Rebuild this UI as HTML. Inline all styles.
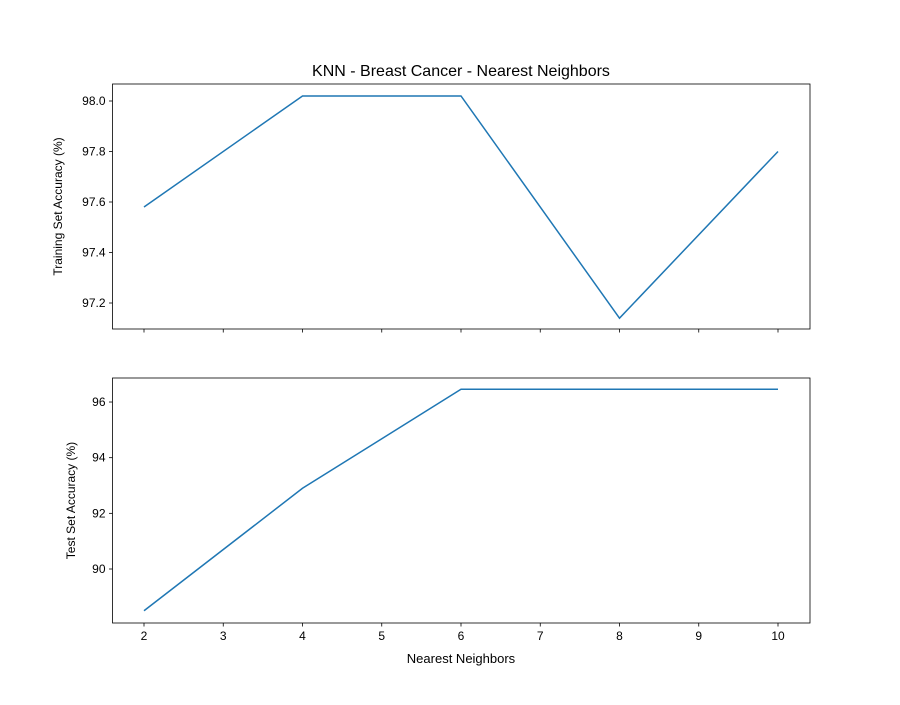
<!DOCTYPE html>
<html><head><meta charset="utf-8"><style>
body{margin:0;background:#fff}
svg text{font-family:"Liberation Sans","DejaVu Sans",sans-serif;fill:#000}
</style></head><body>
<svg id="chart" width="900" height="700"></svg>
<script>
const neighbors=[2,4,6,8,10];
const trainAcc=[97.58,98.02,98.02,97.14,97.80];
const testAcc=[88.5,92.9,96.46,96.46,96.46];
const xTicks=[2,3,4,5,6,7,8,9,10];
const trainTicks=[97.2,97.4,97.6,97.8,98.0];
const testTicks=[90,92,94,96];

const svg=document.getElementById('chart');
const NS='http://www.w3.org/2000/svg';
function mk(tag,attrs,parent){const e=document.createElementNS(NS,tag);for(const k in attrs)e.setAttribute(k,attrs[k]);(parent||svg).appendChild(e);return e;}
const L=112.5,R=810;
const xs=v=>144+(v-2)*79.25;
function panel(name,top,bottom,ys,ticks,vals,fmt,label,showX){
  const g=mk('g',{});
  
  
  const pts=neighbors.map((n,i)=>xs(n)+','+ys(vals[i])).join(' ');
  const line=mk('polyline',{points:pts,fill:'none',stroke:'#1f77b4','stroke-width':1.5},g);
  
  
  ticks.forEach(t=>{const y=ys(t);
    mk('line',{x1:L-3.5,x2:L,y1:y,y2:y,stroke:'#000','stroke-width':0.8},g);
    const tx=mk('text',{x:L-7,y:y+4,'text-anchor':'end','font-size':12},g);tx.textContent=fmt(t);
    
    
  });
  xTicks.forEach(t=>{const x=xs(t);
    mk('line',{x1:x,x2:x,y1:bottom,y2:bottom+3.5,stroke:'#000','stroke-width':0.8},g);
    if(showX){const tx=mk('text',{x:x,y:bottom+17,'text-anchor':'middle','font-size':12},g);tx.textContent=t;
      
      }
  });
  const fr=mk('rect',{x:L,y:top,width:R-L,height:bottom-top,fill:'none',stroke:'#000','stroke-width':0.8},g);
  
  
  const cy=(top+bottom)/2;
  const yl=mk('text',{x:0,y:0,'text-anchor':'middle','font-size':12,transform:`translate(${label[1]},${cy}) rotate(-90)`},g);
  yl.textContent=label[0];
  
  
}
panel('training-panel',84,329,v=>303-(v-97.2)*252.5,trainTicks,trainAcc,t=>t.toFixed(1),['Training Set Accuracy (%)',62],false);
panel('test-panel',378,623,v=>569-(v-90)*27.83,testTicks,testAcc,t=>String(t),['Test Set Accuracy (%)',75],true);
const title=mk('text',{x:461,y:76,'text-anchor':'middle','font-size':16});
title.textContent='KNN - Breast Cancer - Nearest Neighbors';


const xl=mk('text',{x:461,y:663,'text-anchor':'middle','font-size':13});
xl.textContent='Nearest Neighbors';


</script>
</body></html>
